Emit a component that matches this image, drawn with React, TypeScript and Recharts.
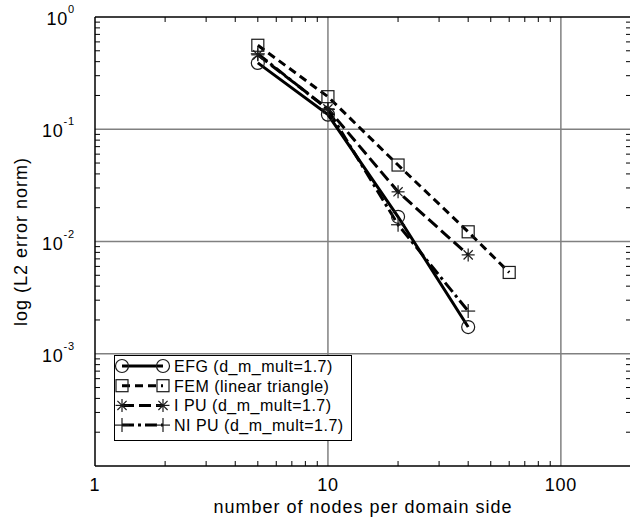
import React from "react";
import { LineChart, Line, XAxis, YAxis, ReferenceLine } from "recharts";

// nodes per side and L2 error norms
const nodes = [5, 10, 20, 40];
const nodesFem = [5, 10, 20, 40, 60];
const efgErr = [0.39, 0.135, 0.0166, 0.00173];
const femErr = [0.56, 0.195, 0.048, 0.0122, 0.0053];
const ipuErr = [0.46, 0.152, 0.0277, 0.0076];
const nipuErr = [0.47, 0.15, 0.0141, 0.0024];

const xDomain = [1, 200];
const yDomain = [0.0001, 1];
const xMajor = [1, 10, 100];
const xMinor = [2, 3, 4, 5, 6, 7, 8, 9, 20, 30, 40, 50, 60, 70, 80, 90];
const yMajor = [0.001, 0.01, 0.1, 1];
const yMinor = [
  0.0002, 0.0003, 0.0004, 0.0005, 0.0006, 0.0007, 0.0008, 0.0009,
  0.002, 0.003, 0.004, 0.005, 0.006, 0.007, 0.008, 0.009,
  0.02, 0.03, 0.04, 0.05, 0.06, 0.07, 0.08, 0.09,
  0.2, 0.3, 0.4, 0.5, 0.6, 0.7, 0.8, 0.9,
];

const FONT = '"Liberation Sans", Arial, Helvetica, sans-serif';
const TICK = 5;

const series = [
  { name: "EFG (d_m_mult=1.7)", x: nodes, y: efgErr, dash: undefined, marker: "circle" },
  { name: "FEM (linear triangle)", x: nodesFem, y: femErr, dash: "8 5", marker: "square" },
  { name: "I PU (d_m_mult=1.7)", x: nodes, y: ipuErr, dash: "12 5", marker: "star" },
  { name: "NI PU (d_m_mult=1.7)", x: nodes, y: nipuErr, dash: "12 4 3 4", marker: "plus" },
];

const toRows = (xs: number[], ys: number[]) => xs.map((n, i) => ({ x: n, y: ys[i] }));

function Marker({ type, cx, cy }: any) {
  const st = { stroke: "#1a1a1a", strokeWidth: 1.2, fill: "none" };
  if (type === "circle") return <circle cx={cx} cy={cy} r={6.5} {...st} />;
  if (type === "square") return <rect x={cx - 6} y={cy - 6} width={12} height={12} {...st} />;
  if (type === "star") {
    const r = 6.5;
    const d = 4.6;
    return (
      <g {...st}>
        <line x1={cx - r} y1={cy} x2={cx + r} y2={cy} />
        <line x1={cx} y1={cy - r} x2={cx} y2={cy + r} />
        <line x1={cx - d} y1={cy - d} x2={cx + d} y2={cy + d} />
        <line x1={cx - d} y1={cy + d} x2={cx + d} y2={cy - d} />
      </g>
    );
  }
  const r = 7;
  return (
    <g {...st}>
      <line x1={cx - r} y1={cy} x2={cx + r} y2={cy} />
      <line x1={cx} y1={cy - r} x2={cx} y2={cy + r} />
    </g>
  );
}

// minor tick marks: only the two inward stubs at the ends of a reference line
function VStubs(p: any) {
  const x = p.x1;
  const top = Math.min(p.y1, p.y2);
  const bot = Math.max(p.y1, p.y2);
  return (
    <g stroke="#000" strokeWidth={1}>
      <line x1={x} y1={top} x2={x} y2={top + TICK} />
      <line x1={x} y1={bot} x2={x} y2={bot - TICK} />
    </g>
  );
}

function HStubs(p: any) {
  const y = p.y1;
  const l = Math.min(p.x1, p.x2);
  const r = Math.max(p.x1, p.x2);
  return (
    <g stroke="#000" strokeWidth={1}>
      <line x1={l} y1={y} x2={l + TICK} y2={y} />
      <line x1={r} y1={y} x2={r - TICK} y2={y} />
    </g>
  );
}

function XTick({ x, y, payload }: any) {
  return (
    <text x={x} y={y + 25} textAnchor="middle" fontSize={18} letterSpacing={0.8} fill="#000" fontFamily={FONT}>
      {payload.value}
    </text>
  );
}

function YTick({ x, y, payload }: any) {
  const e = Math.round(Math.log10(payload.value));
  return (
    <text x={x - 20} y={y + 8} textAnchor="end" fontSize={18} letterSpacing={0.8} fill="#000" fontFamily={FONT}>
      10
      <tspan dy={-12} fontSize={11}>
        {e}
      </tspan>
    </text>
  );
}

function Legend() {
  const top = 366;
  const step = 19.7;
  return (
    <svg width={630} height={527} style={{ position: "absolute", left: 0, top: 0, pointerEvents: "none" }}>
      <rect x={114.5} y={355.5} width={237} height={85} fill="#fff" stroke="#000" strokeWidth={1} />
      {series.map((s, i) => {
        const y = top + i * step;
        return (
          <g key={s.name}>
            <line x1={122} y1={y} x2={163} y2={y} stroke="#000" strokeWidth={3} strokeDasharray={s.dash} />
            <Marker type={s.marker} cx={122} cy={y} />
            <Marker type={s.marker} cx={163} cy={y} />
            <text x={174} y={y + 6} fontSize={16} letterSpacing={0.5} fontFamily={FONT} fill="#000">
              {s.name}
            </text>
          </g>
        );
      })}
    </svg>
  );
}

export default function App() {
  const axisLine = { stroke: "#000", strokeWidth: 1.5 };
  return (
    <div style={{ position: "absolute", left: 0, top: 0, width: 630, height: 527, overflow: "hidden", background: "#fff" }}>
      <LineChart width={632} height={527} margin={{ top: 17, right: 1, bottom: 0, left: 0 }} style={{ fontFamily: FONT }}>
        {xMajor
          .filter((v) => v > xDomain[0])
          .map((v) => (
            <ReferenceLine key={`gx${v}`} xAxisId="main" yAxisId="main" x={v} stroke="#808080" strokeWidth={1.5} />
          ))}
        {yMajor
          .filter((v) => v < yDomain[1])
          .map((v) => (
            <ReferenceLine key={`gy${v}`} xAxisId="main" yAxisId="main" y={v} stroke="#808080" strokeWidth={1.5} />
          ))}
        {xMinor.map((v) => (
          <ReferenceLine key={`mx${v}`} xAxisId="main" yAxisId="main" x={v} shape={(p: any) => <VStubs {...p} />} />
        ))}
        {yMinor.map((v) => (
          <ReferenceLine key={`my${v}`} xAxisId="main" yAxisId="main" y={v} shape={(p: any) => <HStubs {...p} />} />
        ))}
        {/* top and right frame */}
        <ReferenceLine xAxisId="main" yAxisId="main" y={yDomain[1]} stroke="#000" strokeWidth={1.5} />
        <ReferenceLine xAxisId="main" yAxisId="main" x={xDomain[1]} stroke="#000" strokeWidth={1.5} />
        <XAxis
          xAxisId="main"
          dataKey="x"
          type="number"
          scale="log"
          domain={xDomain}
          allowDataOverflow
          ticks={xMajor}
          interval={0}
          height={61}
          tickLine={false}
          tickSize={0}
          tickMargin={0}
          axisLine={axisLine}
          tick={(p: any) => <XTick {...p} />}
          label={(p: any) => {
            const vb = p.viewBox;
            return (
              <text x={vb.x + vb.width / 2} y={vb.y + 47} textAnchor="middle" fontSize={18} letterSpacing={1} fontFamily={FONT} fill="#000">
                number of nodes per domain side
              </text>
            );
          }}
        />
        <YAxis
          yAxisId="main"
          type="number"
          scale="log"
          domain={yDomain}
          allowDataOverflow
          ticks={yMajor}
          interval={0}
          width={95}
          tickLine={false}
          tickSize={0}
          tickMargin={0}
          axisLine={axisLine}
          tick={(p: any) => <YTick {...p} />}
          label={(p: any) => {
            const vb = p.viewBox;
            const cx = vb.x + 27;
            const cy = vb.y + vb.height / 2;
            return (
              <text x={cx} y={cy} transform={`rotate(-90 ${cx} ${cy})`} textAnchor="middle" fontSize={18} letterSpacing={1} fontFamily={FONT} fill="#000">
                log (L2 error norm)
              </text>
            );
          }}
        />
        {series.map((s) => (
          <Line
            key={s.name}
            xAxisId="main"
            yAxisId="main"
            data={toRows(s.x, s.y)}
            dataKey="y"
            name={s.name}
            stroke="#000"
            strokeWidth={3}
            strokeDasharray={s.dash}
            isAnimationActive={false}
            dot={(p: any) => <Marker key={`${s.name}-${p.index}`} type={s.marker} cx={p.cx} cy={p.cy} />}
            activeDot={false}
          />
        ))}
      </LineChart>
      <Legend />
    </div>
  );
}
